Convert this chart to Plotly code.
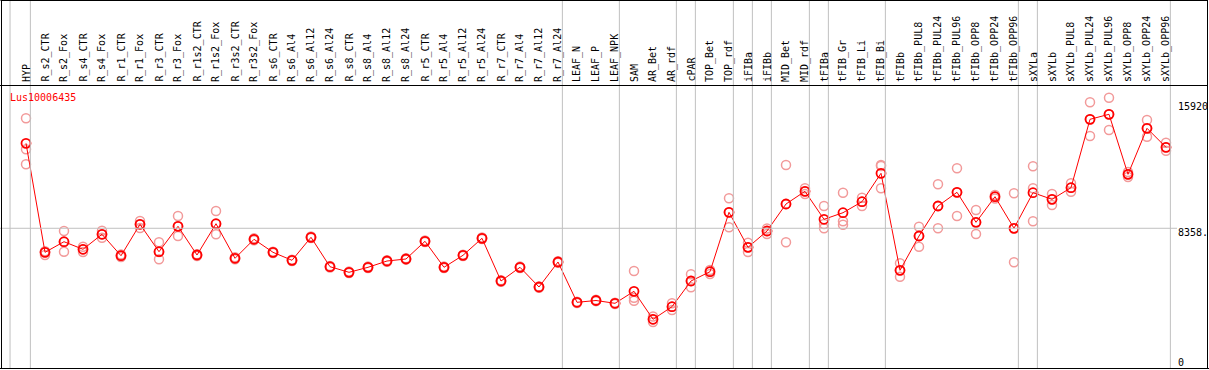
import plotly.graph_objects as go

W, H = 1209, 370

gene = "Lus10006435"

categories = ["HYP", "R_s2_CTR", "R_s2_Fox", "R_s4_CTR", "R_s4_Fox", "R_r1_CTR", "R_r1_Fox",
              "R_r3_CTR", "R_r3_Fox", "R_r1s2_CTR", "R_r1s2_Fox", "R_r3s2_CTR", "R_r3s2_Fox",
              "R_s6_CTR", "R_s6_Al4", "R_s6_Al12", "R_s6_Al24", "R_s8_CTR", "R_s8_Al4",
              "R_s8_Al12", "R_s8_Al24", "R_r5_CTR", "R_r5_Al4", "R_r5_Al12", "R_r5_Al24",
              "R_r7_CTR", "R_r7_Al4", "R_r7_Al12", "R_r7_Al24", "LEAF_N", "LEAF_P", "LEAF_NPK",
              "SAM", "AR_Bet", "AR_rdf", "cPAR", "TOP_Bet", "TOP_rdf", "iFIBa", "iFIBb",
              "MID_Bet", "MID_rdf", "tFIBa", "tFIB_Gr", "tFIB_Li", "tFIB_Bi", "tFIBb",
              "tFIBb_PUL8", "tFIBb_PUL24", "tFIBb_PUL96", "tFIBb_OPP8", "tFIBb_OPP24",
              "tFIBb_OPP96", "sXYLa", "sXYLb", "sXYLb_PUL8", "sXYLb_PUL24", "sXYLb_PUL96",
              "sXYLb_OPP8", "sXYLb_OPP24", "sXYLb_OPP96"]

# number of categories in each separated group
group_sizes = [1, 28, 3, 3, 1, 2, 1, 1, 2, 1, 3, 7, 1, 7]

means = [13473, 6911, 7549, 7092, 7995, 6706, 8597, 6947, 8476, 6748, 8633, 6550, 7694,
         6911, 6429, 7814, 6044, 5707, 6008, 6387, 6508, 7573, 6008, 6730, 7754,
         5183, 6008, 4822, 6327, 3901, 4009, 3841,
         4563, 2878, 3636, 5183, 5743, 9319, 7212, 8193, 9819, 10583, 8898, 9295, 9957, 11667,
         5827, 7892, 9698, 10523, 8717, 10258, 8356,
         10499, 10102, 10800, 14918, 15219, 11607, 14376, 13232]

rep1 = [14978, 6971, 8193, 7248, 8211, 6778, 8795, 7513, 9096, 6800, 9397, 6610, 7750,
        6950, 6470, 7860, 6090, 5750, 6050, 6430, 6550, 7620, 6050, 6770, 7800,
        5230, 6050, 4860, 6370, 3940, 4050, 3880,
        5785, 3046, 3841, 5587, 5845, 10162, 7489, 8344, 12166, 10764, 9698, 10499, 10198, 12166,
        6249, 8452, 11005, 11968, 9457, 10360, 10463,
        12088, 10421, 11065, 15941, 16218, 11745, 14875, 13509]
rep2 = [13112, 6911, 7525, 7092, 7995, 6706, 8597, 6929, 8476, 6748, 8615, 6550, 7694,
        6911, 6429, 7814, 6044, 5707, 6008, 6387, 6508, 7573, 6008, 6730, 7754,
        5183, 6008, 4822, 6327, 3901, 4009, 3841,
        4178, 2878, 3636, 5183, 5743, 9319, 7212, 8193, 9819, 10583, 8615, 8777, 9957, 12106,
        5827, 7892, 9698, 10523, 8717, 10258, 8356,
        10764, 10102, 10800, 14918, 15219, 11607, 14376, 13232]
rep3 = [12209, 6748, 6947, 6929, 7790, 6628, 8374, 6490, 7892, 6690, 7995, 6490, 7630,
        6870, 6390, 7770, 6000, 5660, 5970, 6340, 6470, 7530, 5960, 6690, 7710,
        5140, 5970, 4780, 6280, 3860, 3970, 3800,
        3997, 2715, 3437, 4804, 5605, 8416, 6929, 8013, 7513, 10421, 8356, 8572, 9698, 10764,
        5442, 7248, 8356, 9096, 8013, 10150, 6309,
        8777, 9758, 10559, 13912, 14273, 11444, 13870, 13027]

tick_values = [0, 8358, 15920]
tick_labels = ["0", "8358.", "15920"]

# ---- geometry (pixel based) ----
x0_px, step_px = 26.0, 19.0
def px_to_x(px):
    return (px - x0_px) / step_px

y_bot_px, y_top_px = 368.0, 85.0
yscale = 0.01661  # px per unit
y_zero_px = 367.1
y_lo = (y_zero_px - y_bot_px) / yscale
y_hi = (y_zero_px - y_top_px) / yscale

def py(px):  # paper y from pixel y
    return 1 - px / H

def pxp(px):  # paper x from pixel x
    return px / W

n = len(categories)
xs = list(range(n))

fig = go.Figure()

rep_x, rep_y = [], []
for r in (rep1, rep2, rep3):
    rep_x += xs
    rep_y += r
fig.add_trace(go.Scatter(x=rep_x, y=rep_y, mode="markers",
                         marker=dict(symbol="circle-open", size=9, color="#f29a9a",
                                     line=dict(width=1.5, color="#f29a9a")),
                         hoverinfo="skip", showlegend=False))
fig.add_trace(go.Scatter(x=xs, y=means, mode="lines+markers",
                         line=dict(color="#ff0000", width=1),
                         marker=dict(symbol="circle-open", size=9, color="#ff0000",
                                     line=dict(width=1.8, color="#ff0000")),
                         hoverinfo="skip", showlegend=False))

shapes = []
# group separators
off = 0.23
bounds = [-0.84]
acc = -1
for g in group_sizes:
    acc += g
    bounds.append(acc + off)
for b in bounds:
    shapes.append(dict(type="line", xref="x", yref="paper", x0=b, x1=b,
                       y0=py(368), y1=py(0), line=dict(color="#c0c0c0", width=1)))
# horizontal grid at middle tick
shapes.append(dict(type="line", xref="paper", yref="y", x0=0, x1=pxp(1177),
                   y0=tick_values[1], y1=tick_values[1], line=dict(color="#c0c0c0", width=1)))
# frame
for (xa, ya, xb, yb) in [(0.5, 0.5, W - 1.5, 0.5), (1.5, 0, 1.5, 369), (W - 1.5, 0, W - 1.5, 369),
                         (0, 368.5, W, 368.5), (0, 85.5, W - 1, 85.5)]:
    shapes.append(dict(type="line", xref="paper", yref="paper", x0=pxp(xa), x1=pxp(xb),
                       y0=py(ya), y1=py(yb), line=dict(color="#000000", width=1)))

annotations = []
mono = "DejaVu Sans Mono"
for i, c in enumerate(categories):
    annotations.append(dict(x=i, xref="x", y=py(83), yref="paper", text=c, showarrow=False,
                            textangle=-90, xanchor="center", yanchor="bottom",
                            font=dict(family=mono, size=10, color="#000000"), borderpad=0))
for v, t in zip(tick_values, tick_labels):
    shift = -4 if v > 0 else 5
    annotations.append(dict(x=pxp(1177), xref="paper", y=v, yref="y", text=t, showarrow=False,
                            xanchor="left", yanchor="middle", yshift=shift,
                            font=dict(family=mono, size=10, color="#000000"), borderpad=0))
annotations.append(dict(x=pxp(9), xref="paper", y=py(97), yref="paper", text=gene,
                        showarrow=False, xanchor="left", yanchor="middle",
                        font=dict(family=mono, size=10, color="#ff0000"), borderpad=0))

fig.update_layout(width=W, height=H, margin=dict(l=0, r=0, t=0, b=0),
                  paper_bgcolor="white", plot_bgcolor="white", hovermode=False,
                  xaxis=dict(range=[px_to_x(0), px_to_x(W)], domain=[0, 1], visible=False),
                  yaxis=dict(range=[y_lo, y_hi], domain=[py(368), py(85)], visible=False),
                  shapes=shapes, annotations=annotations)

fig.write_html("out.html", config={"displayModeBar": False, "staticPlot": True},
               post_script="document.body.style.margin='0';document.body.style.overflow='hidden';")
